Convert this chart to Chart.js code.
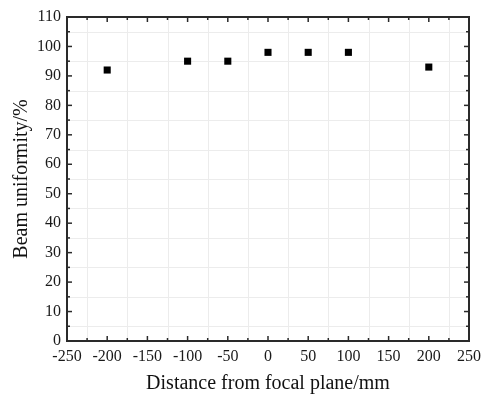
<!DOCTYPE html>
<html>
<head>
<meta charset="utf-8">
<script src="https://cdn.jsdelivr.net/npm/chart.js@4/dist/chart.umd.min.js"></script>
<style>
    html, body { margin: 0; padding: 0; background: #fff; }
    #wrap { width: 487px; height: 394px; }
</style>
</head>
<body>
<div id="wrap"><canvas id="myChart" width="487" height="394"></canvas></div>
<script>
// distance from focal plane (mm) and beam uniformity (%)
const distances = [-200, -100, -50, 0, 50, 100, 200]
const uniformity = [92, 95, 95, 98, 98, 98, 93]
const xTicks = [-250, -200, -150, -100, -50, 0, 50, 100, 150, 200, 250]
const yTicks = [0, 10, 20, 30, 40, 50, 60, 70, 80, 90, 100, 110]

const fontFamily = "'Liberation Serif', 'Times New Roman', serif"

// frame, minor grid and inward ticks like the original plot
const framePlugin = {
    id: 'frame',
    beforeDatasetsDraw(chart) {
        const ctx = chart.ctx
        const a = chart.chartArea
        const xs = chart.scales.x
        const ys = chart.scales.y
        ctx.save()
        ctx.strokeStyle = '#ececec'
        ctx.lineWidth = 1
        for (let i = 0; i < xTicks.length - 1; i++) {
            const px = Math.round(xs.getPixelForValue((xTicks[i] + xTicks[i + 1]) / 2)) + 0.5
            ctx.beginPath(); ctx.moveTo(px, a.top); ctx.lineTo(px, a.bottom); ctx.stroke()
        }
        for (let i = 0; i < yTicks.length - 1; i++) {
            const py = Math.round(ys.getPixelForValue((yTicks[i] + yTicks[i + 1]) / 2)) + 0.5
            ctx.beginPath(); ctx.moveTo(a.left, py); ctx.lineTo(a.right, py); ctx.stroke()
        }
        ctx.strokeStyle = '#2a2a2a'
        ctx.lineWidth = 1.5
        const tick = (x1, y1, x2, y2) => {
            ctx.beginPath(); ctx.moveTo(x1, y1); ctx.lineTo(x2, y2); ctx.stroke()
        }
        for (let i = 0; i < xTicks.length; i++) {
            const px = xs.getPixelForValue(xTicks[i])
            tick(px, a.bottom, px, a.bottom - 5)
            tick(px, a.top, px, a.top + 5)
            if (i < xTicks.length - 1) {
                const pm = xs.getPixelForValue((xTicks[i] + xTicks[i + 1]) / 2)
                tick(pm, a.bottom, pm, a.bottom - 3)
                tick(pm, a.top, pm, a.top + 3)
            }
        }
        for (let i = 0; i < yTicks.length; i++) {
            const py = ys.getPixelForValue(yTicks[i])
            tick(a.left, py, a.left + 5, py)
            tick(a.right, py, a.right - 5, py)
            if (i < yTicks.length - 1) {
                const pm = ys.getPixelForValue((yTicks[i] + yTicks[i + 1]) / 2)
                tick(a.left, pm, a.left + 3, pm)
                tick(a.right, pm, a.right - 3, pm)
            }
        }
        ctx.lineWidth = 2
        ctx.strokeRect(a.left, a.top, a.right - a.left, a.bottom - a.top)
        ctx.restore()
    }
}

const data = {
    datasets: [{
        label: 'Beam uniformity',
        data: distances.map((d, i) => ({ x: d, y: uniformity[i] })),
        showLine: false,
        pointStyle: 'rect',
        pointRadius: 5,
        pointBackgroundColor: '#000',
        pointBorderColor: '#000',
        pointBorderWidth: 0
    }]
}

const config = {
    type: 'scatter',
    data: data,
    plugins: [framePlugin],
    options: {
        responsive: false,
        animation: false,
        layout: {
            padding: { top: 17, right: 17, left: 0, bottom: 0 }
        },
        plugins: {
            legend: { display: false },
            tooltip: { enabled: false }
        },
        scales: {
            x: {
                type: 'linear',
                min: -250,
                max: 250,
                afterBuildTicks: (s) => { s.ticks = xTicks.map(v => ({ value: v })) },
                afterFit: (s) => { s.height = 53 },
                grid: { display: false, drawTicks: false },
                border: { display: false },
                ticks: {
                    padding: 6,
                    color: '#1a1a1a',
                    font: { family: fontFamily, size: 16 }
                },
                title: {
                    display: true,
                    text: 'Distance from focal plane/mm',
                    color: '#111',
                    padding: { top: 0, bottom: 0 },
                    font: { family: fontFamily, size: 20, lineHeight: 1 }
                }
            },
            y: {
                type: 'linear',
                min: 0,
                max: 110,
                afterBuildTicks: (s) => { s.ticks = yTicks.map(v => ({ value: v })) },
                afterFit: (s) => { s.width = 67 },
                grid: { display: false, drawTicks: false },
                border: { display: false },
                ticks: {
                    padding: 6,
                    color: '#1a1a1a',
                    font: { family: fontFamily, size: 16 }
                },
                title: {
                    display: true,
                    text: 'Beam uniformity/%',
                    color: '#111',
                    padding: { top: 12, bottom: 0 },
                    font: { family: fontFamily, size: 20, lineHeight: 1 }
                }
            }
        }
    }
}

const myChart = new Chart(document.getElementById('myChart'), config)
</script>
</body>
</html>
